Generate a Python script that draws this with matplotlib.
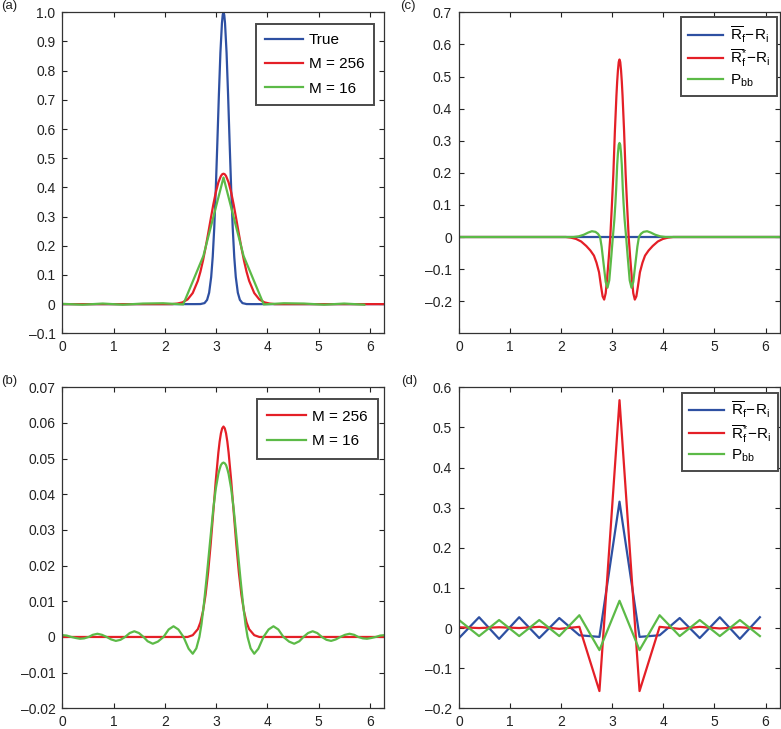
import numpy as np
import matplotlib
matplotlib.use("Agg")
import matplotlib.pyplot as plt

plt.rcParams["font.family"] = ["Liberation Sans", "DejaVu Sans"]
plt.rcParams["mathtext.fontset"] = "custom"
plt.rcParams["mathtext.rm"] = "Liberation Sans"
plt.rcParams["mathtext.it"] = "Liberation Sans:italic"
plt.rcParams["mathtext.bf"] = "Liberation Sans:bold"

# sample nodes of the M = 16 grid
nodes16 = [0.0, 0.393, 0.785, 1.178, 1.571, 1.963, 2.356, 2.749,
           3.142, 3.534, 3.927, 4.320, 4.712, 5.105, 5.498, 5.890]

# (a) half profiles, offset from the centre x = pi
a_true_d = [0, 0.015, 0.03, 0.06, 0.09, 0.12, 0.15, 0.18, 0.21, 0.24, 0.28, 0.32, 0.37, 0.45, 0.55]
a_true_y = [1.0, 0.991, 0.963, 0.862, 0.716, 0.552, 0.395, 0.262, 0.162, 0.093, 0.039, 0.0145, 0.0035, 0.0002, 0.0]
a_m256_d = [0, 0.025, 0.05, 0.10, 0.15, 0.20, 0.25, 0.30, 0.35, 0.40, 0.45, 0.50, 0.60, 0.70, 0.80, 0.90, 1.0]
a_m256_y = [0.447, 0.445, 0.439, 0.417, 0.383, 0.340, 0.291, 0.241, 0.193, 0.149, 0.111, 0.080, 0.038, 0.016, 0.006, 0.002, 0.0]
a_m16_y = [0.001, -0.002, 0.002, -0.002, 0.002, 0.003, -0.001, 0.165,
           0.434, 0.165, -0.001, 0.003, 0.002, -0.002, 0.002, -0.002]

# (b)
b_m256_d = [0, 0.025, 0.05, 0.075, 0.10, 0.15, 0.20, 0.25, 0.30, 0.35, 0.40, 0.45, 0.50, 0.60, 0.70]
b_m256_y = [0.0590, 0.0585, 0.0571, 0.0548, 0.0517, 0.0439, 0.0349, 0.0260, 0.0181, 0.0118,
            0.0072, 0.0041, 0.0022, 0.0005, 0.0]
b_m16_d = [0, 0.025, 0.05, 0.075, 0.10, 0.15, 0.20, 0.27, 0.33, 0.38, 0.43, 0.47, 0.53, 0.60,
           0.68, 0.78, 0.88, 0.975, 1.07, 1.17, 1.28, 1.38, 1.48, 1.56, 1.65, 1.74, 1.83,
           1.92, 2.01, 2.10, 2.19, 2.28, 2.37, 2.46, 2.55, 2.63, 2.72, 2.80, 2.88, 2.97,
           3.06, 3.1416]
b_m16_y = [0.0489, 0.0487, 0.0482, 0.0471, 0.0457, 0.0416, 0.0358, 0.0255, 0.0165, 0.0095,
           0.0035, 0.0, -0.0032, -0.0047, -0.0033, 0.0, 0.0021, 0.0030, 0.0021, 0.0,
           -0.0013, -0.0019, -0.0012, 0.0, 0.0011, 0.0016, 0.0011, 0.0, -0.0008, -0.0011,
           -0.0007, 0.0, 0.0006, 0.0009, 0.0006, 0.0, -0.0004, -0.0005, -0.0003, 0.0,
           0.0004, 0.0005]

# (c)
c_red_d = [0, 0.015, 0.03, 0.045, 0.06, 0.09, 0.12, 0.15, 0.18, 0.21, 0.24, 0.27, 0.30,
           0.33, 0.36, 0.40, 0.45, 0.50, 0.57, 0.65, 0.75, 0.85, 0.95, 1.05]
c_red_y = [0.553, 0.545, 0.52, 0.485, 0.44, 0.33, 0.197, 0.095, 0.0, -0.065, -0.125, -0.175,
           -0.195, -0.185, -0.155, -0.11, -0.08, -0.058, -0.042, -0.028, -0.014, -0.006,
           -0.002, 0.0]
c_green_d = [0, 0.015, 0.03, 0.045, 0.065, 0.08, 0.10, 0.13, 0.16, 0.20, 0.235, 0.27, 0.31,
             0.35, 0.38, 0.42, 0.47, 0.54, 0.61, 0.70, 0.80, 0.90]
c_green_y = [0.293, 0.287, 0.262, 0.225, 0.15, 0.105, 0.055, 0.0, -0.06, -0.135, -0.158,
             -0.14, -0.085, -0.03, 0.0, 0.01, 0.016, 0.018, 0.014, 0.007, 0.002, 0.0]

# (d) values on the 16 nodes
d_blue = [-0.025, 0.027, -0.027, 0.027, -0.025, 0.025, -0.018, -0.022,
          0.315, -0.022, -0.018, 0.025, -0.025, 0.027, -0.027, 0.027]
d_red = [0.002, 0.0, 0.002, 0.0, 0.003, -0.002, 0.003, -0.157,
         0.568, -0.157, 0.003, -0.002, 0.003, -0.001, 0.002, -0.001]
d_green = [0.02, -0.02, 0.02, -0.02, 0.02, -0.02, 0.032, -0.055,
           0.068, -0.055, 0.032, -0.02, 0.02, -0.02, 0.02, -0.02]

lab_bar = r"$\overline{\mathrm{R}}_{\mathrm{f}}\!-\!\mathrm{R}_{\mathrm{i}}$"
lab_star = r"$\overline{\mathrm{R}}_{\mathrm{f}}^{*}\!-\!\mathrm{R}_{\mathrm{i}}$"
lab_pbb = r"P$_{\mathrm{bb}}$"

blue = "#2e50a2"
red = "#e41f27"
green = "#5cba47"
lw = 1.6


def mirror(d, y):
    # half profile about x = pi  ->  full curve
    d = np.asarray(d)
    y = np.asarray(y)
    x = np.concatenate([np.pi - d[::-1], np.pi + d[1:]])
    yy = np.concatenate([y[::-1], y[1:]])
    if x[0] > 0:
        x = np.concatenate([[0.0], x, [2 * np.pi]])
        yy = np.concatenate([[yy[0]], yy, [yy[-1]]])
    return x, yy


def style(ax, yticks, ylabels, ylim):
    ax.set_xlim(0, 2 * np.pi)
    ax.set_ylim(*ylim)
    ax.set_xticks(range(7))
    ax.set_xticklabels([str(i) for i in range(7)])
    ax.set_yticks(yticks)
    ax.set_yticklabels(ylabels)
    ax.tick_params(direction="in", top=True, right=True, length=3.5, width=0.8,
                   labelsize=10, colors="#222222", pad=5)
    for s in ax.spines.values():
        s.set_color("#333333")
        s.set_linewidth(0.9)


def neg(s):
    return s.replace("-", "\u2013")


def frame(leg):
    leg.get_frame().set_edgecolor("#4a4a4a")
    leg.get_frame().set_linewidth(1.4)


fig = plt.figure(figsize=(7.81, 7.29), dpi=100)
ax_a = fig.add_axes([0.080, 0.5428, 0.4123, 0.4403])
ax_c = fig.add_axes([0.5877, 0.5428, 0.411, 0.4403])
ax_b = fig.add_axes([0.080, 0.0284, 0.4123, 0.4403])
ax_d = fig.add_axes([0.5877, 0.0284, 0.411, 0.4403])

leg_kw = dict(borderaxespad=0, fancybox=False, framealpha=1, fontsize=11,
              handletextpad=0.4)

# (a)
x, y = mirror(a_true_d, a_true_y)
ax_a.plot(x, y, color=blue, lw=lw, label="True")
x, y = mirror(a_m256_d, a_m256_y)
ax_a.plot(x, y, color=red, lw=lw, label="M = 256")
ax_a.plot(nodes16, a_m16_y, color=green, lw=lw, label="M = 16")
yt = np.round(np.arange(-0.1, 1.01, 0.1), 1)
style(ax_a, yt, [neg("%g" % v) if v != 1.0 else "1.0" for v in yt], (-0.1, 1.0))
frame(ax_a.legend(loc="upper right", bbox_to_anchor=(0.967, 0.964), handlelength=2.5,
                  labelspacing=0.68, borderpad=0.6, **leg_kw))

# (b)
x, y = mirror(b_m256_d, b_m256_y)
ax_b.plot(x, y, color=red, lw=lw, label="M = 256")
x, y = mirror(b_m16_d, b_m16_y)
ax_b.plot(x, y, color=green, lw=lw, label="M = 16")
yt = np.round(np.arange(-0.02, 0.071, 0.01), 2)
style(ax_b, yt, [neg("%g" % v) for v in yt], (-0.02, 0.07))
frame(ax_b.legend(loc="upper right", bbox_to_anchor=(0.98, 0.964), handlelength=2.5,
                  labelspacing=0.68, borderpad=0.7, **leg_kw))

# (c)
ax_c.plot([0, 2 * np.pi], [0, 0], color=blue, lw=lw, label=lab_bar)
x, y = mirror(c_red_d, c_red_y)
ax_c.plot(x, y, color=red, lw=lw, label=lab_star)
x, y = mirror(c_green_d, c_green_y)
ax_c.plot(x, y, color=green, lw=lw, label=lab_pbb)
yt = np.round(np.arange(-0.2, 0.71, 0.1), 1)
style(ax_c, yt, [neg("%g" % v) for v in yt], (-0.3, 0.7))
frame(ax_c.legend(loc="upper right", bbox_to_anchor=(0.99, 0.984), handlelength=2.3,
                  labelspacing=0.2, borderpad=0.45, **leg_kw))

# (d)
ax_d.plot(nodes16, d_blue, color=blue, lw=lw, label=lab_bar)
ax_d.plot(nodes16, d_red, color=red, lw=lw, label=lab_star)
ax_d.plot(nodes16, d_green, color=green, lw=lw, label=lab_pbb)
yt = np.round(np.arange(-0.2, 0.61, 0.1), 1)
style(ax_d, yt, [neg("%g" % v) for v in yt], (-0.2, 0.6))
frame(ax_d.legend(loc="upper right", bbox_to_anchor=(0.993, 0.983), handlelength=2.3,
                  labelspacing=0.2, borderpad=0.45, **leg_kw))

for lab, xx, yy in [("(a)", 0.002, 0.992), ("(c)", 0.512, 0.992),
                    ("(b)", 0.002, 0.478), ("(d)", 0.514, 0.478)]:
    fig.text(xx, yy, lab, fontsize=9.5, ha="left", va="center", color="#222222")

fig.savefig("out.png", dpi=100)
